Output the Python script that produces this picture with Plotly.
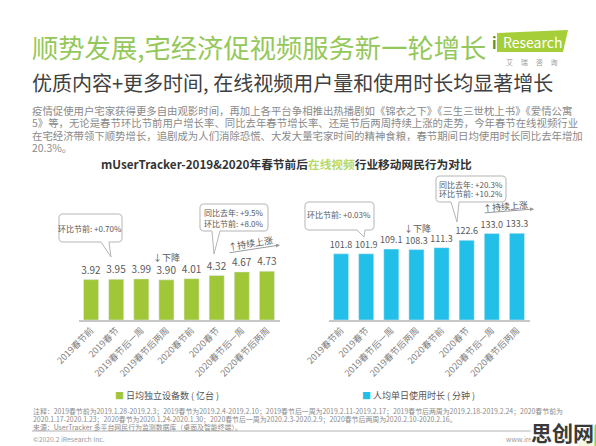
import plotly.graph_objects as go

# Datos
periodos = ['2019春节前', '2019春节', '2019春节后一周', '2019春节后两周',
            '2020春节前', '2020春节', '2020春节后一周', '2020春节后两周']
dispositivos = [3.92, 3.95, 3.99, 3.90, 4.01, 4.32, 4.67, 4.73]   # 亿台
minutos = [101.8, 101.9, 109.1, 108.3, 111.3, 122.6, 133.0, 133.3]  # 分钟

W, H = 596, 446
VERDE = '#a0c737'
AZUL = '#22bfe8'
GRIS = '#595959'
FONT = 'Noto Sans CJK SC'


def px(x):
    return x / W


def py(y):
    return 1 - y / H


def texto(fig, x, y, s, size=10, color=GRIS, anchor='left', **kw):
    fig.add_annotation(x=px(x), y=py(y), xref='paper', yref='paper', text=s,
                       showarrow=False, xanchor=anchor, yanchor='middle',
                       borderpad=0, font=dict(family=FONT, size=size, color=color), **kw)


def burbuja(x0, y0, x1, y1, tb0, tb1, tx, ty, r=4):
    """Bocadillo con cola (coordenadas en pixeles)"""
    pts = [('M', x0 + r, y0), ('L', x1 - r, y0), ('Q', x1, y0, x1, y0 + r),
           ('L', x1, y1 - r), ('Q', x1, y1, x1 - r, y1), ('L', tb1, y1),
           ('L', tx, ty), ('L', tb0, y1), ('L', x0 + r, y1),
           ('Q', x0, y1, x0, y1 - r), ('L', x0, y0 + r), ('Q', x0, y0, x0 + r, y0)]
    path = ''
    for p in pts:
        cmd, vals = p[0], p[1:]
        coords = ' '.join(f'{px(vals[i]):.5f},{py(vals[i + 1]):.5f}' for i in range(0, len(vals), 2))
        path += f'{cmd} {coords} '
    return dict(type='path', path=path + 'Z', xref='paper', yref='paper',
                fillcolor='white', line=dict(color='#b5b5b5', width=1), layer='above')


fig = go.Figure()

fig.add_trace(go.Bar(x=periodos, y=dispositivos, marker_color=VERDE,
                     text=[f'{v:.2f}' for v in dispositivos], textposition='outside',
                     constraintext='none', textfont=dict(family=FONT, size=10, color=GRIS),
                     cliponaxis=False, xaxis='x', yaxis='y', showlegend=False))
fig.add_trace(go.Bar(x=periodos, y=minutos, marker_color=AZUL,
                     text=[f'{v:.1f}' for v in minutos], textposition='outside',
                     constraintext='none', textfont=dict(family=FONT, size=9, color=GRIS),
                     cliponaxis=False, xaxis='x2', yaxis='y2', showlegend=False))

eje_x = dict(showgrid=False, showline=True, linecolor='#c8c8c8', linewidth=1.5,
             tickangle=-45, ticks='', tickfont=dict(family=FONT, size=9, color='#7f7f7f'),
             fixedrange=True)
fig.update_layout(
    width=W, height=H, margin=dict(l=0, r=0, t=0, b=0, autoexpand=False),
    paper_bgcolor='white', plot_bgcolor='white', bargap=0.4,
    xaxis=dict(domain=[px(78.5), px(279.5)], anchor='y', **eje_x),
    yaxis=dict(domain=[py(320), py(200)], range=[0, 11.65], visible=False),
    xaxis2=dict(domain=[px(328.5), px(529.5)], anchor='y2', **eje_x),
    yaxis2=dict(domain=[py(320), py(200)], range=[0, 184.6], visible=False),
)

# Titulos
texto(fig, 31, 47, '顺势发展,宅经济促视频服务新一轮增长', size=26.3, color='#95c85a')
texto(fig, 31, 83, '优质内容+更多时间, 在线视频用户量和使用时长均显著增长', size=20, color='#404040')

parrafo = [
    '疫情促使用户宅家获得更多自由观影时间，再加上各平台争相推出热播剧如《锦衣之下》《三生三世枕上书》《爱情公寓',
    '5》等，无论是春节环比节前用户增长率、同比去年春节增长率、还是节后两周持续上涨的走势，今年春节在线视频行业',
    '在宅经济带领下顺势增长，追剧成为人们消除恐慌、大发大量宅家时间的精神食粮，春节期间日均使用时长同比去年增加',
    '20.3%。',
]
for i, linea in enumerate(parrafo):
    texto(fig, 31, 110 + i * 12.6, linea, size=10.4, color='#8a8a8a')

texto(fig, 100, 163, '<b>mUserTracker-2019&2020年春节前后<span style="color:#b5d96a">在线视频</span>行业移动网民行为对比</b>',
      size=11.7, color='#333333')

# Logo
fig.add_shape(type='path', path=f'M {px(497)},{py(33)} L {px(568)},{py(30)} L {px(563)},{py(52)} L {px(497)},{py(52)} Z',
              xref='paper', yref='paper', fillcolor='#a6ce39', line=dict(width=0))
texto(fig, 491, 43, '<b>i</b>', size=15, color='#5f8f1a')
texto(fig, 532, 42, 'Research', size=14, color='white', anchor='center')
texto(fig, 532, 62, '艾     瑞     咨     询', size=7, color='#9a9a9a', anchor='center')

# Bocadillos
fig.add_shape(burbuja(59, 214, 122, 242, 101, 109, 111, 257))
texto(fig, 90, 228, '环比节前: +0.70%', size=8, anchor='center')
fig.add_shape(burbuja(200, 204, 268, 231, 212, 220, 214, 254))
texto(fig, 234, 213, '同比去年: +9.5%', size=8, anchor='center')
texto(fig, 234, 223, '环比节前: +8.0%', size=8, anchor='center')

fig.add_shape(burbuja(305, 202, 374, 230, 357, 365, 364, 237))
texto(fig, 339, 215, '环比节前: +0.03%', size=8, anchor='center')
fig.add_shape(burbuja(436, 176, 506, 202, 451, 459, 457, 222))
texto(fig, 471, 184, '同比去年: +20.3%', size=8, anchor='center')
texto(fig, 471, 194, '环比节前: +10.2%', size=8, anchor='center')

# Tendencias
texto(fig, 166, 257, '↓下降', size=9, anchor='center')
texto(fig, 417, 228, '↓下降', size=9, anchor='center')
texto(fig, 250, 243, '↑持续上涨', size=9, anchor='center', textangle=-9)
texto(fig, 505, 206, '↑持续上涨', size=9, anchor='center', textangle=-5)
for (x0, y0, x1, y1) in [(228, 253, 280, 245), (483, 213, 534, 209)]:
    fig.add_annotation(x=px(x1), y=py(y1), xref='paper', yref='paper', text='',
                       showarrow=True, ax=x0 - x1, ay=y0 - y1, arrowhead=2,
                       arrowsize=0.8, arrowwidth=1, arrowcolor='#9a9a9a')

# Leyendas
texto(fig, 114, 395, f'<span style="color:{VERDE}">■</span> 日均独立设备数 ( 亿台 )', size=9, color='#555555')
texto(fig, 361, 395, f'<span style="color:{AZUL}">■</span> 人均单日使用时长 ( 分钟 )', size=9, color='#555555')

# Notas
notas = [
    '注释：2019春节前为2019.1.28-2019.2.3；2019春节为2019.2.4-2019.2.10；2019春节后一周为2019.2.11-2019.2.17；2019春节后两周为2019.2.18-2019.2.24；2020春节前为',
    '2020.1.17-2020.1.23；2020春节为2020.1.24-2020.1.30；2020春节后一周为2020.2.3-2020.2.9；2020春节后两周为2020.2.10-2020.2.16。',
    '来源：UserTracker 多平台网民行为监测数据库（桌面及智能终端）。',
]
for i, n in enumerate(notas):
    texto(fig, 32, 411 + i * 8, n, size=6.9, color='#8a8a8a')
fig.add_shape(type='line', x0=px(32), x1=px(562), y0=py(431), y1=py(431),
              xref='paper', yref='paper', line=dict(color='#a0a0a0', width=0.8))
texto(fig, 32, 439, '©2020.2 iResearch Inc.', size=6.8, color='#9a9a9a')
texto(fig, 505, 439, 'www.iresearch.com.cn', size=6.8, color='#9a9a9a')

# Marca de agua
fig.add_shape(type='path', path=f'M {px(576)},{py(446)} L {px(596)},{py(424)} L {px(596)},{py(446)} Z',
              xref='paper', yref='paper', fillcolor='#a6ce39', line=dict(width=0))
texto(fig, 562, 432, '<b>思创网</b>', size=21, color='#3a3a3a', anchor='center',
      bgcolor='rgba(255,255,255,0.85)')

fig.write_html('out.html', config={'displayModeBar': False},
               post_script="document.body.style.margin='0px';")
